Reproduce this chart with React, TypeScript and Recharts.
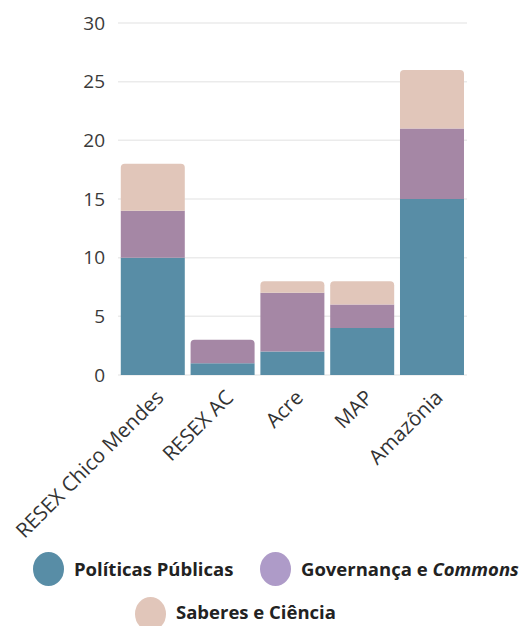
import React from "react";
import { BarChart, Bar, XAxis, YAxis, CartesianGrid, Rectangle } from "recharts";

const categories = ["RESEX Chico Mendes", "RESEX AC", "Acre", "MAP", "Amazônia"];
const politicasPublicas = [10, 1, 2, 4, 15];
const governancaCommons = [4, 2, 5, 2, 6];
const saberesCiencia = [4, 0, 1, 2, 5];
const yTicks = [0, 5, 10, 15, 20, 25, 30];

const data = categories.map((c, i) => ({
  name: c,
  pp: politicasPublicas[i],
  gc: governancaCommons[i],
  sc: saberesCiencia[i],
}));

const C_PP = "#588DA6";
const C_GC = "#A587A5";
const C_SC = "#E1C6BA";
const C_GC_LEG = "#AE9BC8";
const FONT = "'Open Sans', sans-serif";

const keys = ["pp", "gc", "sc"];
const topKey = (d: any) => {
  for (let k = keys.length - 1; k >= 0; k--) if (d[keys[k]] > 0) return keys[k];
  return null;
};

const makeShape = (key: string) => (props: any) => {
  const isTop = topKey(props.payload) === key;
  return <Rectangle {...props} radius={isTop ? [4, 4, 0, 0] : 0} />;
};

const XTick = (props: any) => {
  const { x, y, payload } = props;
  return (
    <g transform={`translate(${x + 2},${y + 6})`}>
      <text
        x={0}
        y={0}
        dy={14}
        textAnchor="end"
        transform="rotate(-45)"
        fill="#333"
        fontSize={20.5}
        fontFamily={FONT}
      >
        {payload.value}
      </text>
    </g>
  );
};

const Dot = ({ color, left, top }: any) => (
  <div
    style={{
      position: "absolute",
      left,
      top,
      width: 31,
      height: 34,
      borderRadius: "50%",
      background: color,
    }}
  />
);

const Label = ({ left, top, children }: any) => (
  <div
    style={{
      position: "absolute",
      left,
      top,
      fontFamily: FONT,
      fontWeight: 700,
      fontSize: 18.5,
      color: "#222",
      whiteSpace: "nowrap",
      lineHeight: "24px",
    }}
  >
    {children}
  </div>
);

export default function App() {
  return (
    <div style={{ position: "absolute", left: 0, top: 0, width: 526, height: 626, background: "#fff", overflow: "hidden" }}>
      <BarChart
        width={526}
        height={560}
        data={data}
        margin={{ top: 23, right: 59, left: 0, bottom: 0 }}
        barCategoryGap="4%"
      >
        <CartesianGrid vertical={false} stroke="#EBEBEB" strokeWidth={1.5} />
        <XAxis
          dataKey="name"
          interval={0}
          axisLine={false}
          tickLine={false}
          height={185}
          tick={<XTick />}
        />
        <YAxis
          domain={[0, 30]}
          ticks={yTicks}
          axisLine={false}
          tickLine={false}
          width={118}
          tickMargin={7}
          tick={{ fill: "#3a3a3a", fontSize: 19, fontFamily: FONT }}
        />
        <Bar dataKey="pp" stackId="a" fill={C_PP} isAnimationActive={false} shape={makeShape("pp")} />
        <Bar dataKey="gc" stackId="a" fill={C_GC} isAnimationActive={false} shape={makeShape("gc")} />
        <Bar dataKey="sc" stackId="a" fill={C_SC} isAnimationActive={false} shape={makeShape("sc")} />
      </BarChart>
      <Dot color={C_PP} left={33} top={552} />
      <Label left={74} top={557}>Políticas Públicas</Label>
      <Dot color={C_GC_LEG} left={260} top={552} />
      <Label left={301} top={557}>
        Governança e <i>Commons</i>
      </Label>
      <Dot color={C_SC} left={135} top={597} />
      <Label left={176} top={600}>Saberes e Ciência</Label>
    </div>
  );
}
